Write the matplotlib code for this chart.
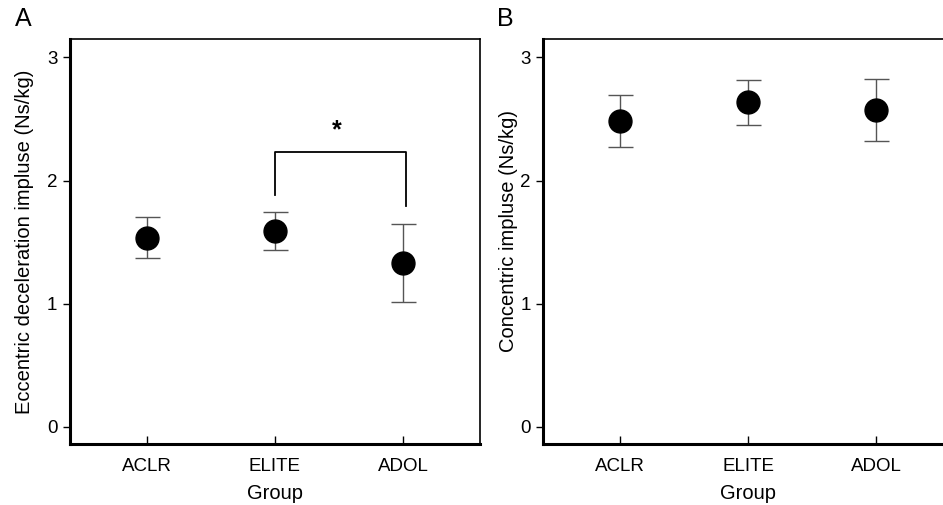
import matplotlib.pyplot as plt

plt.rcParams['font.family'] = ['Liberation Sans', 'DejaVu Sans']

groups = ["ACLR", "ELITE", "ADOL"]
x_pos = [1, 2, 3]

# Panel A - eccentric deceleration impulse
ecc_mean = [1.535, 1.59, 1.333]
ecc_low = [1.373, 1.435, 1.016]
ecc_high = [1.70, 1.744, 1.651]

# Panel B - concentric impulse
con_mean = [2.484, 2.636, 2.574]
con_low = [2.276, 2.455, 2.325]
con_high = [2.695, 2.82, 2.825]

y_ticks = [0, 1, 2, 3]

fig = plt.figure(figsize=(9.43, 5.05), dpi=100)
ax_a = fig.add_axes([70 / 943, 61 / 505, 410 / 943, 405 / 505])
ax_b = fig.add_axes([543 / 943, 61 / 505, 410 / 943, 405 / 505])


def draw_panel(ax, means, lows, highs, ylabel, ylab_x, ylab_y):
    yerr = [[m - lo for m, lo in zip(means, lows)],
            [hi - m for m, hi in zip(means, highs)]]
    ax.errorbar(x_pos, means, yerr=yerr, fmt="o", color="black",
                ecolor="#555555", elinewidth=1.0, capsize=9, capthick=1.0,
                markersize=16.5, zorder=3)
    ax.set_xlim(0.4, 3.6)
    ax.set_ylim(-0.14, 3.15)
    ax.set_xticks(x_pos)
    ax.set_xticklabels(groups)
    ax.set_yticks(y_ticks)
    ax.tick_params(axis="x", direction="in", length=6, width=1,
                   labelsize=13.5, pad=10)
    ax.tick_params(axis="y", direction="out", length=5, width=1,
                   labelsize=13.5, pad=4)
    ax.spines["left"].set_linewidth(2.2)
    ax.spines["bottom"].set_linewidth(2.2)
    ax.spines["top"].set_linewidth(1.2)
    ax.spines["right"].set_linewidth(1.2)
    ax.set_xlabel("Group", fontsize=14.5, va="center")
    ax.xaxis.set_label_coords(0.5, -0.121)
    ax.set_ylabel(ylabel, fontsize=14.5, va="center")
    ax.yaxis.set_label_coords(ylab_x, ylab_y)


draw_panel(ax_a, ecc_mean, ecc_low, ecc_high,
           "Eccentric deceleration impluse (Ns/kg)", -0.112, 0.50)
draw_panel(ax_b, con_mean, con_low, con_high,
           "Concentric impluse (Ns/kg)", -0.085, 0.526)

# significance bracket between ELITE and ADOL
ax_a.plot([2.0, 2.0, 3.02, 3.02], [1.88, 2.228, 2.228, 1.795],
          color="black", linewidth=1.3)
ax_a.text(2.48, 2.41, "*", ha="center", va="center", fontsize=18,
          fontweight="bold")

fig.text(15 / 943, 1 - 19 / 505, "A", fontsize=18, va="center", ha="left")
fig.text(497 / 943, 1 - 19 / 505, "B", fontsize=18, va="center", ha="left")

fig.savefig("out.png", dpi=100)
